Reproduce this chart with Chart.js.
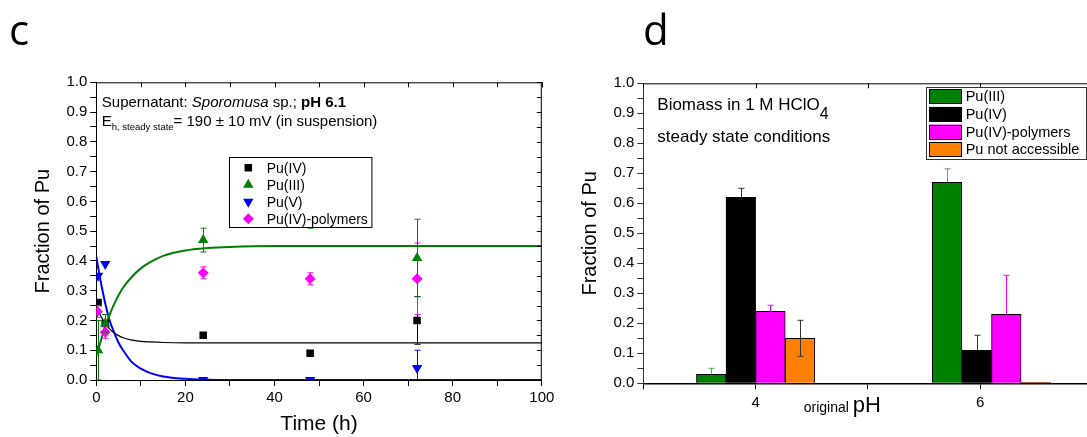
<!DOCTYPE html>
<html>
<head>
<meta charset="utf-8">
<script src="https://cdn.jsdelivr.net/npm/chart.js@4.4.1/dist/chart.umd.min.js"></script>
<style>
  body { margin: 0; background: #fff; }
  #wrap { position: relative; width: 1087px; height: 437px; overflow: hidden; }
  canvas { position: absolute; top: 0; }
  .panel { position: absolute; font-family: 'Open Sans', sans-serif; font-size: 42px; line-height: 42px; color: #000; }
</style>
</head>
<body>
<div id="wrap">
  <canvas id="kinetics" width="560" height="437" style="left:0"></canvas>
  <canvas id="biomass" width="527" height="437" style="left:560px"></canvas>
  <div class="panel" style="left:9px;top:8px">c</div>
  <div class="panel" style="left:643px;top:8px">d</div>
</div>
<script>
// panel c: measured fractions vs time (h)
const pu4Time = [0.4, 2, 24, 48, 72];
const pu4Frac = [0.26, 0.19, 0.15, 0.09, 0.20];
const pu4Err = [0, 0.01, 0, 0, 0.08];

const pu3Time = [0.4, 2, 24, 48, 72];
const pu3Frac = [0.10, 0.19, 0.47, 0.53, 0.41];
const pu3Err = [0.10, 0.03, 0.04, 0.02, 0.13];

const pu5Time = [0.4, 2, 24, 48, 72];
const pu5Frac = [0.35, 0.39, 0.0, 0.0, 0.04];
const pu5Err = [0, 0, 0.005, 0.005, 0.06];

const polyTime = [0.25, 2, 24, 48, 72];
const polyFrac = [0.23, 0.16, 0.36, 0.34, 0.34];
const polyErr = [0.02, 0.02, 0.02, 0.02, 0.12];

// fitted curves
const curveTime = [0, 1, 2, 3, 4, 5, 6, 8, 10, 12, 15, 20, 25, 30, 40, 60, 80, 100];
const pu3Fit = [0.08, 0.13, 0.18, 0.22, 0.255, 0.285, 0.31, 0.347, 0.375, 0.395, 0.417, 0.435, 0.443, 0.447, 0.45, 0.45, 0.45, 0.45];
const pu5Fit = [0.413, 0.33, 0.258, 0.2, 0.16, 0.125, 0.1, 0.06, 0.038, 0.024, 0.012, 0.004, 0.001, 0, 0, 0, 0, 0];
const pu4Fit = [0.25, 0.215, 0.19, 0.172, 0.158, 0.149, 0.142, 0.134, 0.13, 0.128, 0.126, 0.125, 0.125, 0.125, 0.125, 0.125, 0.125, 0.125];

// panel d: steady state bars
const phValues = [4, 6.1];
const pu3Bar = [0.03, 0.67];
const pu4Bar = [0.62, 0.11];
const polyBar = [0.24, 0.23];
const naBar = [0.15, 0.003];
const pu3BarUp = [0.02, 0.045];
const pu4BarUp = [0.03, 0.05];
const polyBarUp = [0.02, 0.13];
const naBarUp = [0.06, 0];
const naBarDown = [0.06, 0];

const FONT = "'Liberation Sans', Arial, sans-serif";
Chart.defaults.font.family = FONT;
Chart.defaults.color = "#000";

const GREEN = "#008000";
const BLUE = "#0000ff";
const MAGENTA = "#ff00ff";
const ORANGE = "#ff8000";

const xy = (xs, ys) => xs.map((x, i) => ({ x: x, y: ys[i] }));

// error bars, drawn right after each dataset
const errorBars = {
  id: "errorBars",
  afterDatasetDraw(chart, args) {
    const ds = chart.data.datasets[args.index];
    if (!ds.errUp) return;
    const { ctx, chartArea } = chart;
    const yScale = chart.scales.y;
    ctx.save();
    ctx.beginPath();
    ctx.rect(chartArea.left, chartArea.top, chartArea.right - chartArea.left, chartArea.bottom - chartArea.top);
    ctx.clip();
    ctx.strokeStyle = ds.errColor || ds.borderColor;
    ctx.lineWidth = 1;
    args.meta.data.forEach((el, i) => {
      const v = ds.data[i].y;
      const up = ds.errUp[i];
      const dn = ds.errDown ? ds.errDown[i] : up;
      if (!up && !dn) return;
      const x = Math.round(el.x) + 0.5;
      const yTop = yScale.getPixelForValue(v + up);
      const yBot = yScale.getPixelForValue(v - dn);
      ctx.beginPath();
      ctx.moveTo(x, yTop);
      ctx.lineTo(x, yBot);
      if (up) { ctx.moveTo(x - 3, yTop); ctx.lineTo(x + 3, yTop); }
      if (dn) { ctx.moveTo(x - 3, yBot); ctx.lineTo(x + 3, yBot); }
      ctx.stroke();
    });
    ctx.restore();
  },
};

function drawRuns(ctx, x, y, runs) {
  runs.forEach((r) => {
    ctx.font = r.font;
    ctx.fillText(r.text, x, y + (r.dy || 0));
    x += ctx.measureText(r.text).width;
  });
}

const markers = [
  { label: "Pu(IV)", color: "#000", style: "rect", radius: 5.3, rotation: 0 },
  { label: "Pu(III)", color: GREEN, style: "triangle", radius: 6, rotation: 0 },
  { label: "Pu(V)", color: BLUE, style: "triangle", radius: 6, rotation: 180 },
  { label: "Pu(IV)-polymers", color: MAGENTA, style: "rectRot", radius: 5.5, rotation: 0 },
];

const kineticsDecor = {
  id: "kineticsDecor",
  afterDraw(chart) {
    const { ctx, chartArea: a } = chart;
    const xs = chart.scales.x, ys = chart.scales.y;
    ctx.save();
    // frame with inward ticks on top and right
    ctx.strokeStyle = "#000";
    ctx.lineWidth = 1;
    ctx.beginPath();
    ctx.moveTo(a.left, a.top + 0.5);
    ctx.lineTo(a.right, a.top + 0.5);
    ctx.moveTo(a.right - 0.5, a.top);
    ctx.lineTo(a.right - 0.5, a.bottom);
    xs.ticks.forEach((t) => {
      const px = Math.round(xs.getPixelForValue(t.value)) + 0.5;
      ctx.moveTo(px, a.top);
      ctx.lineTo(px, a.top + 5);
    });
    ys.ticks.forEach((t) => {
      const py = Math.round(ys.getPixelForValue(t.value)) + 0.5;
      ctx.moveTo(a.right, py);
      ctx.lineTo(a.right - 5, py);
    });
    ctx.stroke();

    // annotation
    ctx.fillStyle = "#000";
    ctx.textBaseline = "alphabetic";
    ctx.textAlign = "left";
    drawRuns(ctx, a.left + 5.5, a.top + 25, [
      { text: "Supernatant: ", font: "15px " + FONT },
      { text: "Sporomusa", font: "italic 15px " + FONT },
      { text: " sp.; ", font: "15px " + FONT },
      { text: "pH 6.1", font: "bold 15px " + FONT },
    ]);
    drawRuns(ctx, a.left + 5.5, a.top + 43.7, [
      { text: "E", font: "15px " + FONT },
      { text: "h, steady state", font: "9.5px " + FONT, dy: 4 },
      { text: "= 190 \u00b1 10 mV (in suspension)", font: "15px " + FONT },
    ]);

    // legend box
    const bx = a.left + 133, by = a.top + 75, bw = 142.4, bh = 70;
    ctx.fillStyle = "#fff";
    ctx.fillRect(bx, by, bw, bh);
    ctx.strokeStyle = "#000";
    ctx.lineWidth = 1;
    ctx.strokeRect(Math.round(bx) + 0.5, Math.round(by) + 0.5, bw, bh);
    ctx.font = "14px " + FONT;
    ctx.textBaseline = "middle";
    markers.forEach((m, i) => {
      const cy = by + 10.4 + i * 17;
      ctx.fillStyle = m.color;
      ctx.strokeStyle = m.color;
      Chart.helpers.drawPoint(ctx, { pointStyle: m.style, radius: m.radius, rotation: m.rotation, borderWidth: 0 }, bx + 19, cy);
      ctx.fillStyle = "#000";
      ctx.fillText(m.label, bx + 37.4, cy + 1);
    });
    ctx.restore();
  },
};

const pointSet = (m, xs, ys, errs, order) => ({
  label: m.label,
  data: xy(xs, ys),
  showLine: false,
  pointStyle: m.style,
  pointRadius: m.radius,
  pointRotation: m.rotation,
  pointBackgroundColor: m.color,
  pointBorderColor: m.color,
  pointBorderWidth: 0,
  borderColor: m.color,
  backgroundColor: m.color,
  errUp: errs,
  order: order,
});

const curveSet = (ys, color, width) => ({
  data: xy(curveTime, ys),
  showLine: true,
  pointRadius: 0,
  borderColor: color,
  borderWidth: width,
  cubicInterpolationMode: "monotone",
  order: 10,
});

new Chart(document.getElementById("kinetics"), {
  type: "scatter",
  data: {
    datasets: [
      curveSet(pu4Fit, "#000", 1.2),
      curveSet(pu3Fit, GREEN, 2),
      curveSet(pu5Fit, BLUE, 2),
      pointSet(markers[0], pu4Time, pu4Frac, pu4Err, 4),
      pointSet(markers[3], polyTime, polyFrac, polyErr, 3),
      pointSet(markers[2], pu5Time, pu5Frac, pu5Err, 2),
      pointSet(markers[1], pu3Time, pu3Frac, pu3Err, 1),
    ],
  },
  options: {
    responsive: false,
    animation: false,
    layout: { padding: { top: 82.3, right: 18.2, bottom: 0, left: 0 } },
    plugins: { legend: { display: false }, tooltip: { enabled: false } },
    scales: {
      x: {
        type: "linear",
        min: 0,
        max: 100,
        afterFit: (s) => { s.height = 57; },
        ticks: {
          stepSize: 10,
          autoSkip: false,
          maxRotation: 0,
          padding: 3,
          font: { size: 15 },
          callback: (v) => (v % 20 === 0 ? String(v) : ""),
        },
        grid: { drawOnChartArea: false, tickLength: 6, color: "#000" },
        border: { color: "#000", width: 1 },
        title: { display: true, text: "Time (h)", font: { size: 21 }, padding: { top: 0, bottom: 0 } },
      },
      y: {
        min: 0,
        max: 1,
        afterFit: (s) => { s.width = 96.3; },
        ticks: {
          stepSize: 0.05,
          autoSkip: false,
          padding: 3,
          font: { size: 15 },
          callback: (v) => (Math.round(v * 100) % 10 === 0 ? v.toFixed(1) : ""),
        },
        grid: { drawOnChartArea: false, tickLength: 6, color: "#000" },
        border: { color: "#000", width: 1 },
        title: { display: true, text: "Fraction of Pu", font: { size: 20 }, padding: { top: 31, bottom: 0 } },
      },
    },
  },
  plugins: [errorBars, kineticsDecor],
});

// panel d
const barLegend = [
  { label: "Pu(III)", color: GREEN },
  { label: "Pu(IV)", color: "#000" },
  { label: "Pu(IV)-polymers", color: MAGENTA },
  { label: "Pu not accessible", color: ORANGE },
];

const biomassDecor = {
  id: "biomassDecor",
  afterDraw(chart) {
    const { ctx, chartArea: a } = chart;
    const xs = chart.scales.x;
    ctx.save();
    ctx.strokeStyle = "#000";
    ctx.lineWidth = 1;
    ctx.beginPath();
    ctx.moveTo(a.left, a.top + 0.5);
    ctx.lineTo(a.right, a.top + 0.5);
    xs.ticks.forEach((t) => {
      const px = Math.round(xs.getPixelForValue(t.value)) + 0.5;
      ctx.moveTo(px, a.top);
      ctx.lineTo(px, a.top + 5);
    });
    ctx.stroke();

    ctx.fillStyle = "#000";
    ctx.textAlign = "left";
    ctx.textBaseline = "alphabetic";
    drawRuns(ctx, a.left + 14, a.top + 26.7, [
      { text: "Biomass in 1 M HClO", font: "17px " + FONT },
      { text: "4", font: "16px " + FONT, dy: 8.5 },
    ]);
    ctx.font = "17px " + FONT;
    ctx.fillText("steady state conditions", a.left + 14, a.top + 58.4);

    // axis title with small prefix
    drawRuns(ctx, a.left + 160.4, 412, [
      { text: "original ", font: "14px " + FONT },
      { text: "pH", font: "22px " + FONT },
    ]);

    // legend
    const bx = a.left + 282.4, by = a.top + 4, bw = 160, bh = 72;
    ctx.fillStyle = "#fff";
    ctx.fillRect(bx, by, bw, bh);
    ctx.strokeStyle = "#333";
    ctx.strokeRect(Math.round(bx) + 0.5, Math.round(by) + 0.5, bw, bh);
    ctx.font = "14.5px " + FONT;
    ctx.textBaseline = "middle";
    barLegend.forEach((b, i) => {
      const top = by + 2 + i * 17.6;
      ctx.fillStyle = b.color;
      ctx.fillRect(bx + 3.3, top, 32.7, 14.7);
      ctx.strokeStyle = "#000";
      ctx.strokeRect(Math.round(bx + 3.3) + 0.5, Math.round(top) + 0.5, 32, 14);
      ctx.fillStyle = "#000";
      ctx.fillText(b.label, bx + 40, top + 8);
    });
    ctx.restore();
  },
};

const barSet = (b, values, up, down, errColor) => ({
  label: b.label,
  data: xy(phValues, values),
  backgroundColor: b.color,
  borderColor: "#000",
  borderWidth: 1,
  barThickness: 29.6,
  errUp: up,
  errDown: down,
  errColor: errColor,
});

new Chart(document.getElementById("biomass"), {
  type: "bar",
  data: {
    datasets: [
      barSet(barLegend[0], pu3Bar, pu3BarUp, [0, 0], "#4caf50"),
      barSet(barLegend[1], pu4Bar, pu4BarUp, [0, 0], "#333"),
      barSet(barLegend[2], polyBar, polyBarUp, [0, 0], MAGENTA),
      barSet(barLegend[3], naBar, naBarUp, naBarDown, "#333"),
    ],
  },
  options: {
    responsive: false,
    animation: false,
    layout: { padding: { top: 83.3, right: 0, bottom: 0, left: 0 } },
    plugins: { legend: { display: false }, tooltip: { enabled: false } },
    scales: {
      x: {
        type: "linear",
        min: 3,
        max: 6.95,
        offset: false,
        afterFit: (s) => { s.height = 53.7; },
        ticks: {
          stepSize: 1,
          includeBounds: false,
          autoSkip: false,
          maxRotation: 0,
          padding: 5,
          font: { size: 15 },
          callback: (v) => (v === 4 || v === 6 ? String(v) : ""),
        },
        grid: { offset: false, drawOnChartArea: false, tickLength: 6, color: "#000" },
        border: { color: "#000", width: 1.6 },
      },
      y: {
        min: 0,
        max: 1,
        afterFit: (s) => { s.width = 83.3; },
        ticks: {
          stepSize: 0.05,
          autoSkip: false,
          padding: 3,
          font: { size: 15 },
          callback: (v) => (Math.round(v * 100) % 10 === 0 ? v.toFixed(1) : ""),
        },
        grid: { drawOnChartArea: false, tickLength: 6, color: "#333" },
        border: { color: "#333", width: 1 },
        title: { display: true, text: "Fraction of Pu", font: { size: 20 }, padding: { top: 18, bottom: 0 } },
      },
    },
  },
  plugins: [errorBars, biomassDecor],
});
</script>
</body>
</html>
